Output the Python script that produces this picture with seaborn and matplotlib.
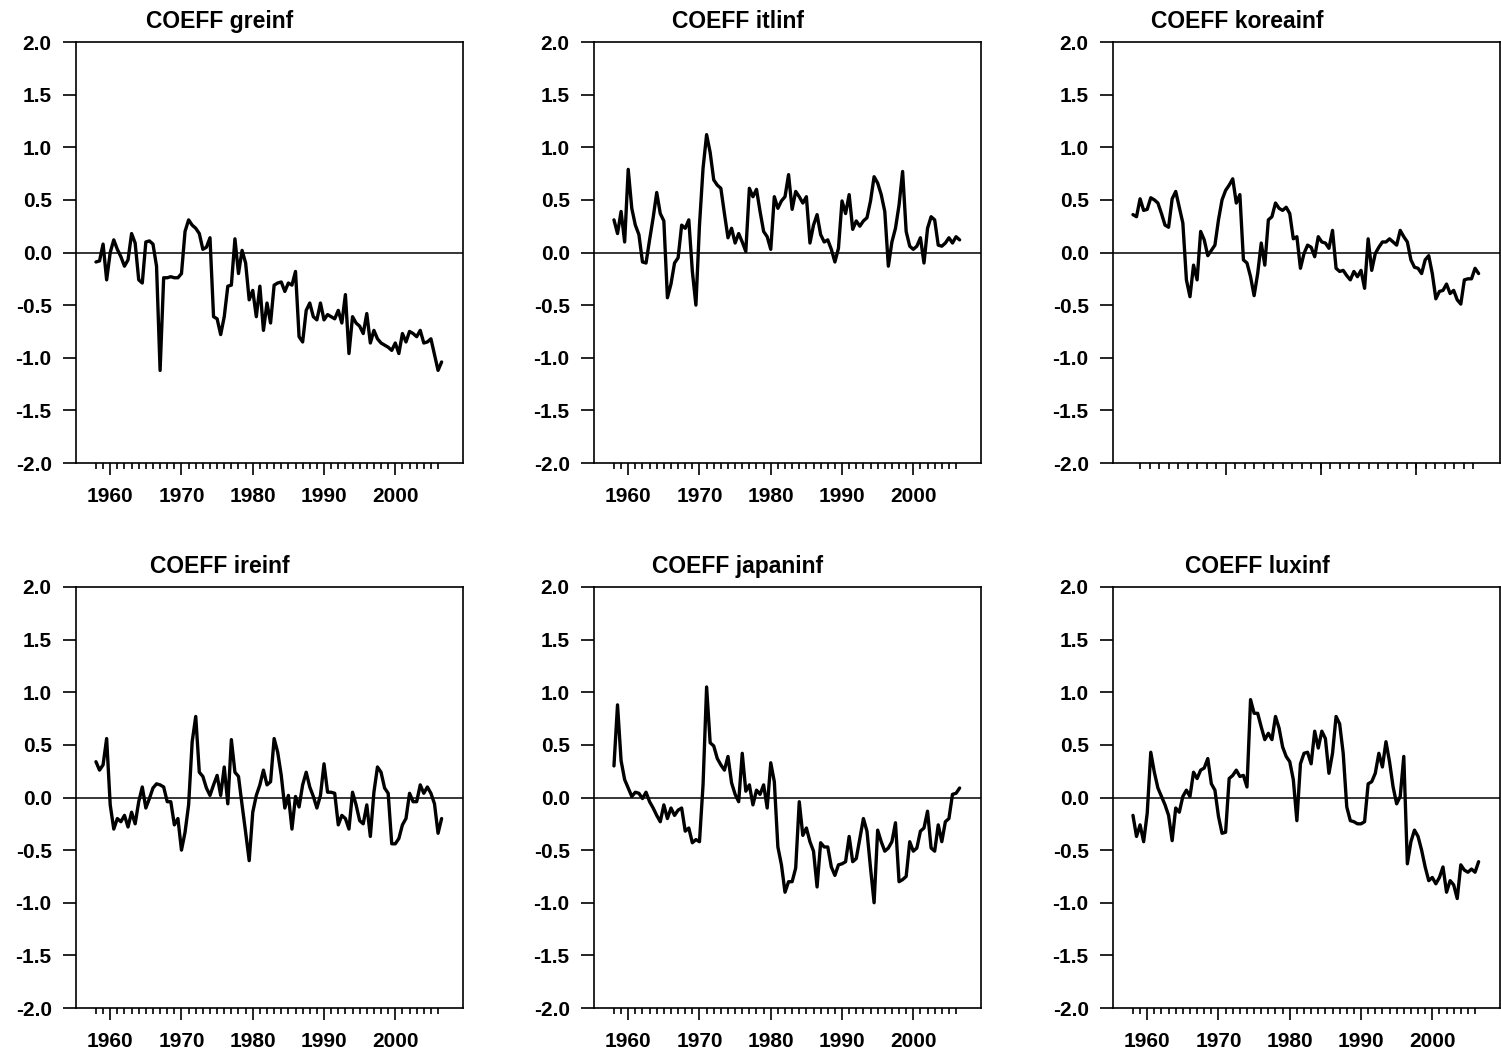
import numpy as np
import pandas as pd
import matplotlib
matplotlib.use("Agg")
import matplotlib.pyplot as plt
import seaborn as sns
from matplotlib.ticker import FixedLocator, NullFormatter, FormatStrFormatter

sns.set_style("ticks")
plt.rcParams['font.family'] = ['Liberation Sans', 'DejaVu Sans']
plt.rcParams['axes.unicode_minus'] = False
plt.rcParams['text.color'] = 'black'
plt.rcParams['xtick.color'] = 'black'
plt.rcParams['ytick.color'] = 'black'
plt.rcParams['axes.labelcolor'] = 'black'
plt.rcParams['axes.edgecolor'] = 'black'

# half-year dates, 1958.0 ... 2006.5 (98 points)
dates = 1958.0 + 0.5 * np.arange(98)

greinf = [
    -0.09, -0.08, 0.08, -0.26,
    0.00, 0.12, 0.03, -0.04, -0.13, -0.07, 0.18, 0.09, -0.26, -0.29,
    0.10, 0.11, 0.08, -0.13, -1.12, -0.24, -0.24, -0.23, -0.24, -0.24,
    -0.20, 0.20, 0.31, 0.26, 0.23, 0.18, 0.03, 0.05, 0.14, -0.61,
    -0.63, -0.78, -0.61, -0.32, -0.31, 0.13, -0.20, 0.02, -0.10, -0.45,
    -0.36, -0.61, -0.32, -0.74, -0.48, -0.67, -0.31, -0.29, -0.28, -0.37,
    -0.29, -0.31, -0.18, -0.80, -0.85, -0.55, -0.48, -0.61, -0.64, -0.48,
    -0.64, -0.59, -0.61, -0.63, -0.55, -0.67, -0.40, -0.96, -0.61, -0.67,
    -0.70, -0.77, -0.58, -0.86, -0.74, -0.82, -0.86, -0.88, -0.90, -0.93,
    -0.86, -0.96, -0.77, -0.85, -0.75, -0.77, -0.80, -0.74, -0.86, -0.85,
    -0.82, -0.97, -1.12, -1.04,
]

itlinf = [
    0.31, 0.18, 0.39, 0.10,
    0.79, 0.42, 0.26, 0.17, -0.09, -0.10, 0.12, 0.33, 0.57, 0.37,
    0.30, -0.43, -0.30, -0.10, -0.05, 0.26, 0.23, 0.31, -0.18, -0.50,
    0.26, 0.80, 1.12, 0.95, 0.69, 0.64, 0.61, 0.37, 0.14, 0.23,
    0.09, 0.18, 0.10, 0.01, 0.61, 0.53, 0.60, 0.39, 0.20, 0.15,
    0.03, 0.53, 0.42, 0.49, 0.53, 0.74, 0.41, 0.58, 0.53, 0.47,
    0.53, 0.09, 0.26, 0.36, 0.17, 0.10, 0.12, 0.03, -0.09, 0.04,
    0.49, 0.37, 0.55, 0.22, 0.30, 0.25, 0.30, 0.33, 0.49, 0.72,
    0.66, 0.55, 0.39, -0.13, 0.10, 0.23, 0.45, 0.77, 0.20, 0.06,
    0.03, 0.06, 0.14, -0.10, 0.23, 0.34, 0.31, 0.07, 0.06, 0.09,
    0.14, 0.09, 0.15, 0.12,
]

koreainf = [
    0.36, 0.34, 0.51, 0.40,
    0.41, 0.52, 0.50, 0.47, 0.37, 0.26, 0.24, 0.51, 0.58, 0.43,
    0.28, -0.26, -0.42, -0.12, -0.26, 0.20, 0.12, -0.03, 0.02, 0.07,
    0.31, 0.50, 0.59, 0.64, 0.70, 0.47, 0.55, -0.07, -0.10, -0.23,
    -0.41, -0.20, 0.09, -0.12, 0.31, 0.34, 0.47, 0.42, 0.40, 0.43,
    0.37, 0.13, 0.15, -0.15, -0.01, 0.07, 0.05, -0.04, 0.15, 0.10,
    0.09, 0.04, 0.21, -0.15, -0.18, -0.17, -0.22, -0.26, -0.18, -0.23,
    -0.17, -0.34, 0.13, -0.17, -0.01, 0.05, 0.10, 0.10, 0.13, 0.10,
    0.07, 0.21, 0.15, 0.10, -0.07, -0.14, -0.15, -0.20, -0.07, -0.03,
    -0.20, -0.44, -0.37, -0.36, -0.30, -0.39, -0.36, -0.45, -0.49, -0.26,
    -0.25, -0.25, -0.15, -0.20,
]

ireinf = [
    0.34, 0.26, 0.31, 0.56,
    -0.07, -0.30, -0.20, -0.23, -0.17, -0.28, -0.14, -0.25, -0.04, 0.10,
    -0.10, -0.01, 0.09, 0.13, 0.12, 0.10, -0.04, -0.04, -0.26, -0.20,
    -0.50, -0.33, -0.07, 0.53, 0.77, 0.24, 0.20, 0.09, 0.02, 0.12,
    0.21, 0.02, 0.29, -0.06, 0.55, 0.24, 0.20, -0.07, -0.33, -0.60,
    -0.14, 0.02, 0.12, 0.26, 0.12, 0.15, 0.56, 0.43, 0.21, -0.10,
    0.02, -0.30, 0.01, -0.09, 0.12, 0.24, 0.10, 0.01, -0.10, 0.02,
    0.32, 0.05, 0.05, 0.04, -0.26, -0.17, -0.20, -0.30, 0.05, -0.07,
    -0.22, -0.25, -0.07, -0.37, 0.05, 0.29, 0.24, 0.09, 0.04, -0.44,
    -0.44, -0.39, -0.26, -0.20, 0.04, -0.04, -0.04, 0.12, 0.04, 0.10,
    0.04, -0.06, -0.34, -0.20,
]

japaninf = [
    0.30, 0.88, 0.35, 0.17,
    0.09, 0.01, 0.05, 0.04, -0.01, 0.05, -0.04, -0.10, -0.17, -0.23,
    -0.07, -0.20, -0.10, -0.17, -0.12, -0.10, -0.32, -0.29, -0.43, -0.40,
    -0.42, 0.12, 1.05, 0.52, 0.49, 0.37, 0.31, 0.26, 0.39, 0.14,
    0.03, -0.04, 0.42, 0.06, 0.12, -0.07, 0.07, 0.03, 0.12, -0.10,
    0.33, 0.15, -0.47, -0.64, -0.90, -0.80, -0.80, -0.67, -0.04, -0.36,
    -0.29, -0.42, -0.51, -0.85, -0.43, -0.47, -0.47, -0.66, -0.74, -0.64,
    -0.63, -0.61, -0.37, -0.61, -0.58, -0.39, -0.20, -0.32, -0.67, -1.00,
    -0.31, -0.42, -0.51, -0.48, -0.42, -0.24, -0.80, -0.78, -0.75, -0.42,
    -0.51, -0.48, -0.32, -0.29, -0.13, -0.48, -0.51, -0.26, -0.42, -0.23,
    -0.20, 0.03, 0.04, 0.09,
]

luxinf = [
    -0.17, -0.37, -0.26, -0.42,
    -0.15, 0.43, 0.24, 0.09, 0.01, -0.07, -0.17, -0.41, -0.10, -0.14,
    0.01, 0.07, 0.01, 0.24, 0.18, 0.26, 0.28, 0.37, 0.13, 0.07,
    -0.18, -0.34, -0.33, 0.18, 0.21, 0.26, 0.20, 0.21, 0.10, 0.93,
    0.80, 0.80, 0.67, 0.55, 0.61, 0.55, 0.77, 0.66, 0.48, 0.39,
    0.34, 0.17, -0.22, 0.32, 0.42, 0.43, 0.32, 0.63, 0.47, 0.63,
    0.56, 0.23, 0.42, 0.77, 0.70, 0.42, -0.09, -0.22, -0.23, -0.25,
    -0.25, -0.23, 0.13, 0.15, 0.23, 0.42, 0.29, 0.53, 0.34, 0.10,
    -0.06, 0.01, 0.39, -0.63, -0.42, -0.31, -0.37, -0.50, -0.66, -0.79,
    -0.76, -0.82, -0.76, -0.66, -0.90, -0.79, -0.83, -0.96, -0.64, -0.69,
    -0.71, -0.68, -0.71, -0.61,
]

titles = ["COEFF greinf", "COEFF itlinf", "COEFF koreainf",
          "COEFF ireinf", "COEFF japaninf", "COEFF luxinf"]
series = [greinf, itlinf, koreainf, ireinf, japaninf, luxinf]

year_major = [1960, 1970, 1980, 1990, 2000]
year_minor = list(range(1958, 2007))
korea_major = [1971.05, 1984.38, 1997.71]
korea_minor = [1959.05 + k * 4.0 / 3.0 for k in range(36)]
y_ticks = [-2.0, -1.5, -1.0, -0.5, 0.0, 0.5, 1.0, 1.5, 2.0]

W, H = 1501, 1052
fig = plt.figure(figsize=(W / 100, H / 100), dpi=100)

col_left = [76, 594, 1113]
row_top = [42, 587]
ax_w, ax_h = 387, 421
title_cx = [220, 738, 1237, 220, 738, 1257]
title_base = [28, 573]

for i, (title, vals) in enumerate(zip(titles, series)):
    r, c = divmod(i, 3)
    left = col_left[c] / W
    bottom = 1 - (row_top[r] + ax_h) / H
    ax = fig.add_axes([left, bottom, ax_w / W, ax_h / H])
    df = pd.DataFrame({"date": dates, "coef": vals})
    sns.lineplot(data=df, x="date", y="coef", ax=ax, color="black",
                 linewidth=2.4, estimator=None)
    ax.axhline(0, color="black", linewidth=1.1, zorder=1)
    ax.set_xlim(1955.2, 2009.5)
    ax.set_ylim(-2, 2)
    ax.set_xlabel("")
    ax.set_ylabel("")
    for sp in ax.spines.values():
        sp.set_visible(True)
        sp.set_linewidth(1.2)
        sp.set_color("black")
    ax.yaxis.set_major_locator(FixedLocator(y_ticks))
    ax.yaxis.set_major_formatter(FormatStrFormatter("%.1f"))
    if i == 2:
        ax.xaxis.set_major_locator(FixedLocator(korea_major))
        ax.xaxis.set_minor_locator(FixedLocator(korea_minor))
        ax.xaxis.set_major_formatter(NullFormatter())
    else:
        ax.xaxis.set_major_locator(FixedLocator(year_major))
        ax.xaxis.set_minor_locator(FixedLocator(year_minor))
        ax.set_xticklabels([str(y) for y in year_major])
    ax.tick_params(axis="y", which="major", direction="out", length=9.5,
                   width=1.2, pad=8, labelsize=15, left=True, right=False,
                   colors="black")
    ax.tick_params(axis="x", which="major", direction="out", length=8.6,
                   width=1.2, pad=8.5, labelsize=15, bottom=True, top=False,
                   colors="black")
    ax.tick_params(axis="x", which="minor", direction="out", length=4.3,
                   width=1.2, bottom=True, top=False, colors="black")
    for lab in ax.get_xticklabels() + ax.get_yticklabels():
        lab.set_fontweight("bold")
    ax.set_facecolor("white")
    fig.text(title_cx[i] / W, 1 - title_base[r] / H, title, ha="center",
             va="baseline", fontsize=16.5, fontweight="bold", color="black")

fig.savefig("out.png", dpi=100, facecolor="white")
